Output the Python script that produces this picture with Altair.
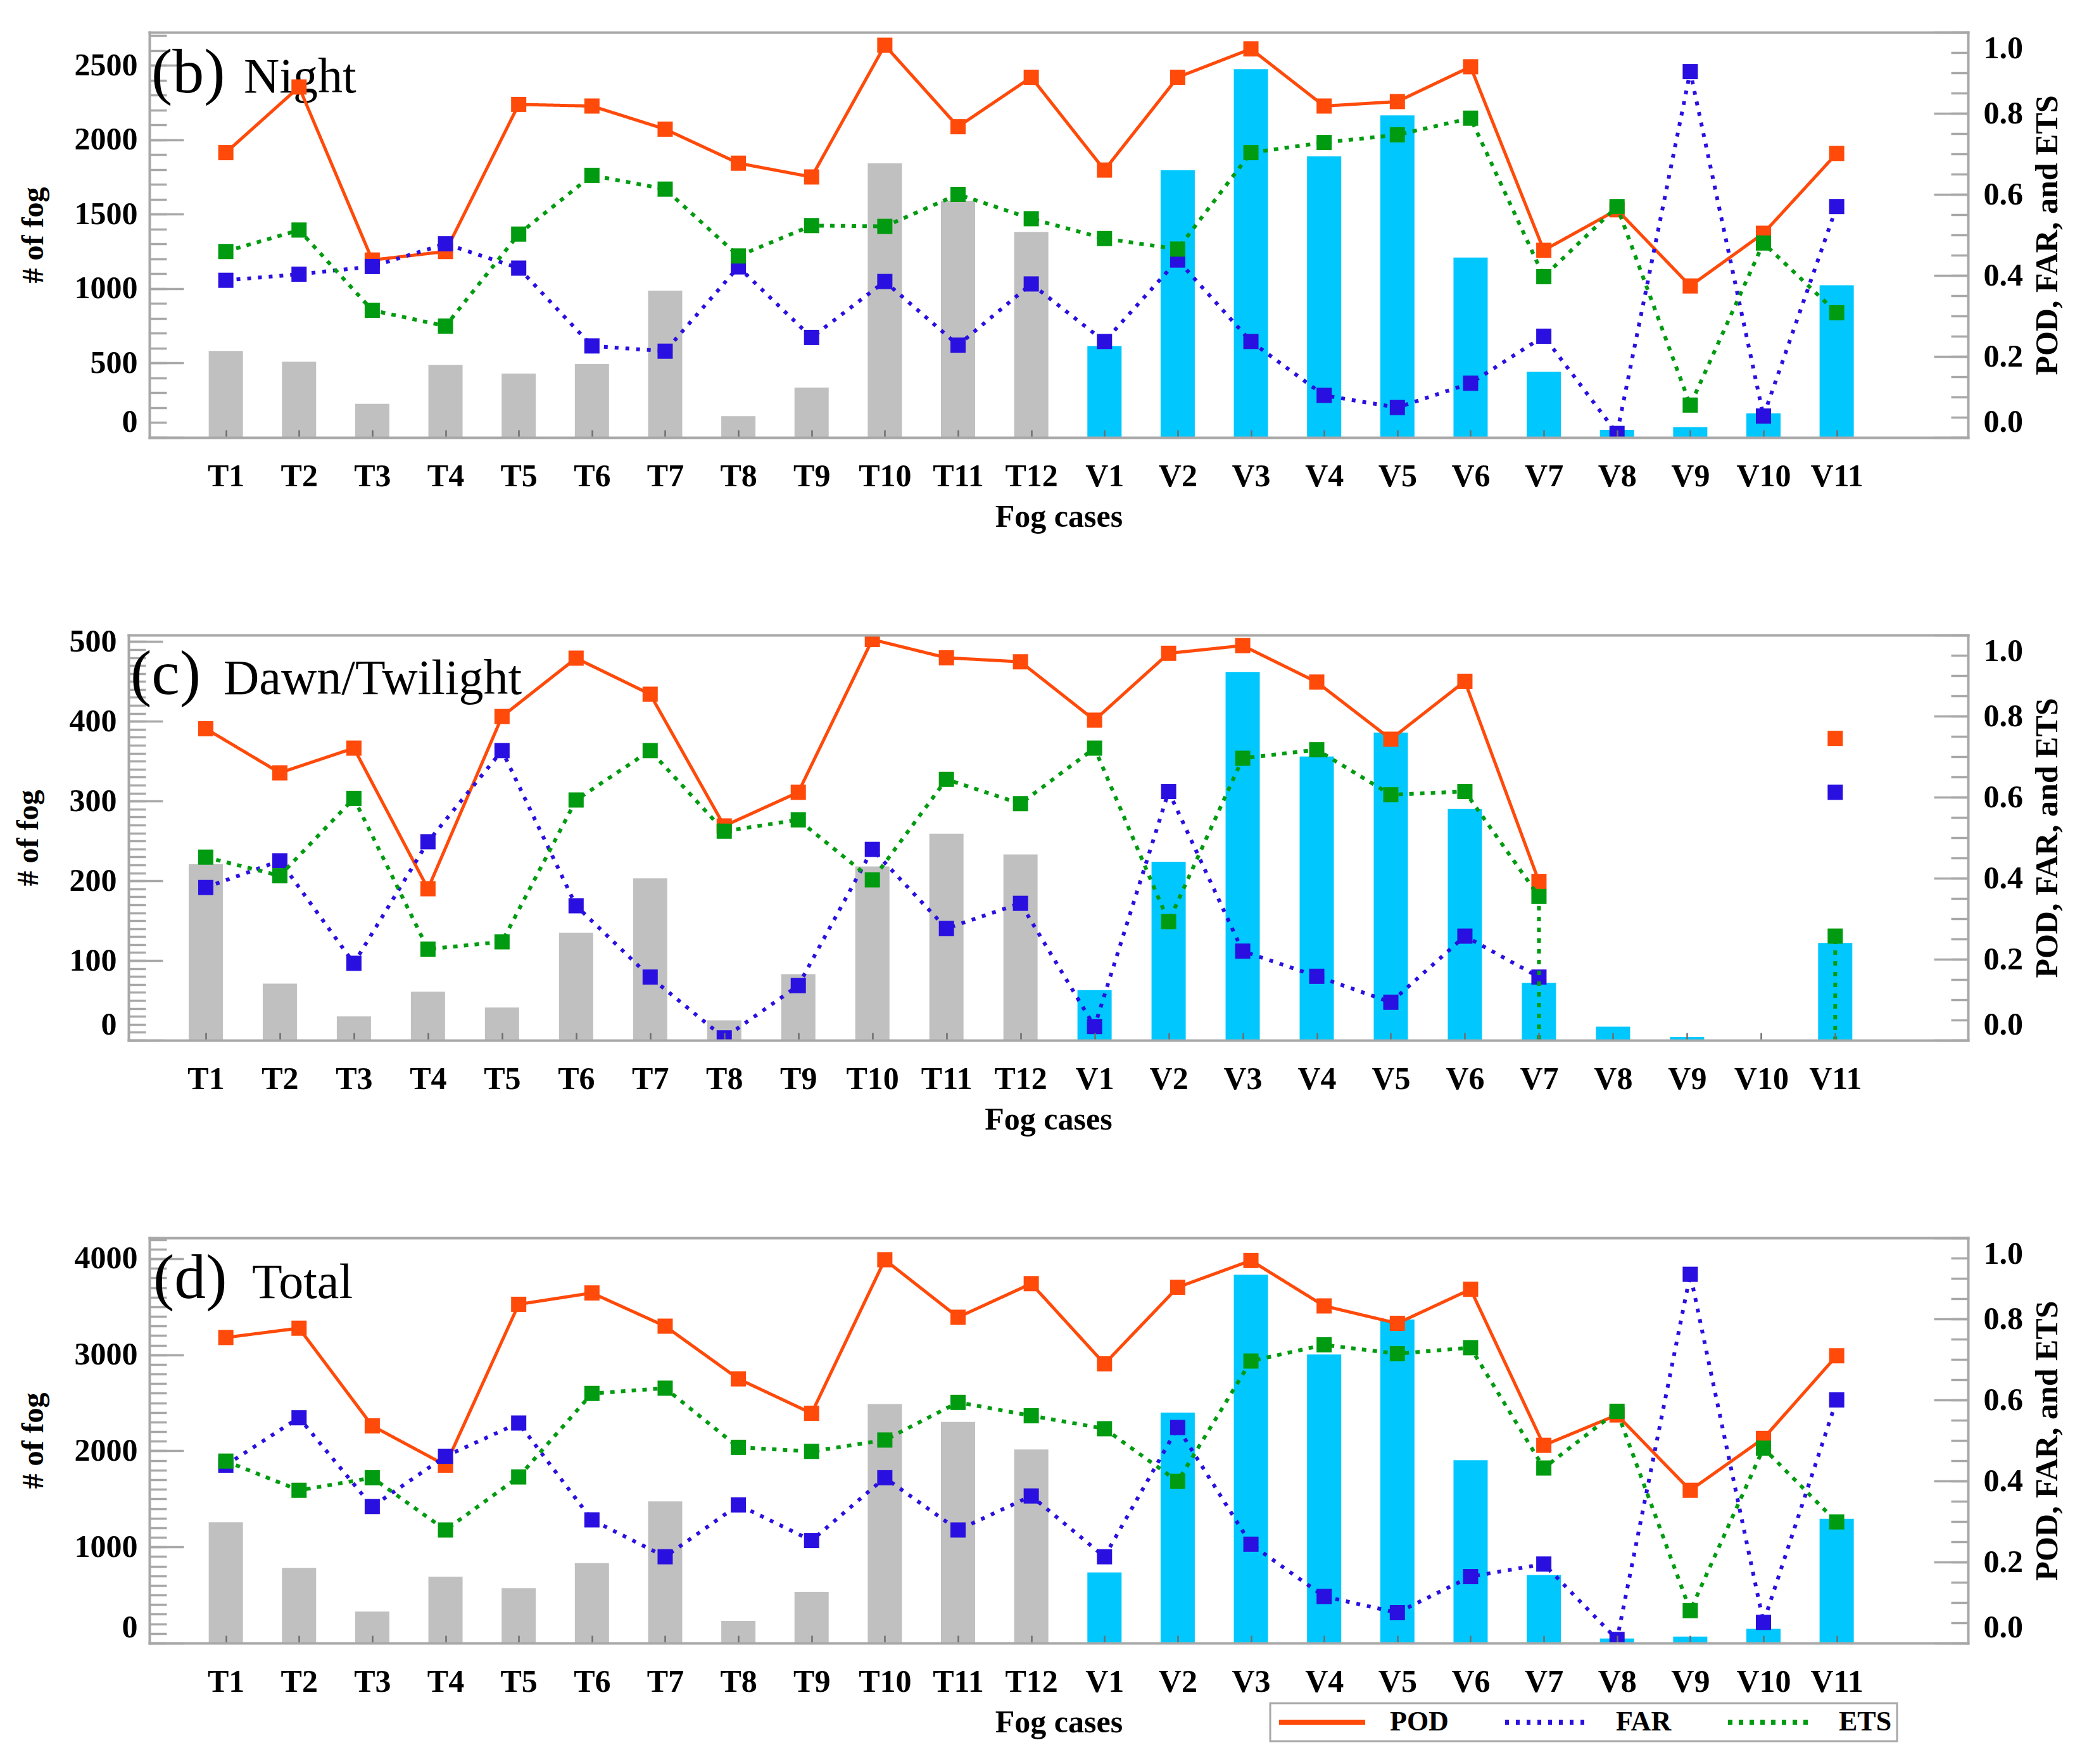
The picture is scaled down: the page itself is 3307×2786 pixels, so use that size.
import altair as alt
import pandas as pd

# ---------------- data ----------------
CASES = ["T1", "T2", "T3", "T4", "T5", "T6", "T7", "T8", "T9", "T10", "T11", "T12",
         "V1", "V2", "V3", "V4", "V5", "V6", "V7", "V8", "V9", "V10", "V11"]
METRICS = ["POD", "FAR", "ETS"]

# (b) Night
NIGHT_FOG = [581, 509, 226, 488, 430, 493, 986, 144, 335, 1841, 1590, 1381,
             614, 1795, 2474, 1888, 2163, 1209, 442, 51, 70, 163, 1023]
NIGHT_POD = [0.703, 0.865, 0.438, 0.459, 0.822, 0.818, 0.761, 0.677, 0.643, 0.968, 0.767, 0.889,
             0.660, 0.889, 0.959, 0.818, 0.829, 0.915, 0.462, 0.562, 0.374, 0.504, 0.701]
NIGHT_FAR = [0.388, 0.403, 0.422, 0.478, 0.418, 0.226, 0.213, 0.421, 0.247, 0.385, 0.228, 0.379,
             0.237, 0.438, 0.237, 0.104, 0.074, 0.134, 0.250, 0.010, 0.903, 0.053, 0.570]
NIGHT_ETS = [0.459, 0.512, 0.314, 0.275, 0.502, 0.647, 0.613, 0.448, 0.523, 0.521, 0.600, 0.540,
             0.491, 0.465, 0.703, 0.728, 0.747, 0.788, 0.397, 0.570, 0.080, 0.480, 0.308]

# (c) Dawn/Twilight  (None = not plotted; -999 = missing-value code of the source, drawn off-scale)
DAWN_FOG = [221, 71, 30, 61, 41, 135, 203, 25, 83, 218, 259, 233,
            63, 224, 462, 356, 386, 290, 72, 17, 4, 0, 122]
DAWN_POD = [0.769, 0.660, 0.721, 0.374, 0.799, 0.943, 0.854, 0.529, 0.612, 0.989, 0.944, 0.934,
            0.790, 0.955, 0.974, 0.884, 0.743, 0.886, 0.392, None, None, None, 0.745]
DAWN_FAR = [0.377, 0.443, 0.190, 0.490, 0.715, 0.332, 0.156, 0.006, 0.135, 0.471, 0.276, 0.338,
            0.034, 0.614, 0.220, 0.158, 0.094, 0.257, 0.156, None, None, None, 0.612]
DAWN_ETS = [0.452, 0.406, 0.597, 0.225, 0.243, 0.593, 0.715, 0.516, 0.544, 0.396, 0.644, 0.584,
            0.721, 0.293, 0.696, 0.717, 0.606, 0.614, 0.355, -999, -999, -999, 0.257]

# (d) Total
TOTAL_FOG = [1257, 783, 328, 690, 571, 832, 1474, 231, 533, 2488, 2302, 2015,
             735, 2398, 3834, 3003, 3368, 1902, 709, 48, 67, 149, 1294]
TOTAL_POD = [0.754, 0.777, 0.536, 0.439, 0.836, 0.864, 0.782, 0.652, 0.567, 0.946, 0.804, 0.887,
             0.689, 0.878, 0.944, 0.832, 0.789, 0.873, 0.488, 0.563, 0.377, 0.505, 0.709]
TOTAL_FAR = [0.439, 0.556, 0.337, 0.461, 0.543, 0.304, 0.213, 0.341, 0.253, 0.408, 0.279, 0.363,
             0.213, 0.532, 0.244, 0.115, 0.075, 0.164, 0.195, 0.009, 0.910, 0.051, 0.600]
TOTAL_ETS = [0.449, 0.377, 0.408, 0.279, 0.410, 0.616, 0.629, 0.483, 0.473, 0.501, 0.594, 0.561,
             0.529, 0.399, 0.696, 0.736, 0.714, 0.729, 0.432, 0.572, 0.080, 0.481, 0.299]

RIGHT_MAJOR = [0.0, 0.2, 0.4, 0.6, 0.8, 1.0]
RIGHT_MINOR = [0.0, 0.05, 0.1, 0.15, 0.2, 0.25, 0.3, 0.35, 0.4, 0.45, 0.5,
               0.55, 0.6, 0.65, 0.7, 0.75, 0.8, 0.85, 0.9, 0.95, 1.0]

# ---------------- styling ----------------
SERIF = "Liberation Serif"
FRAME = "#A8A8A8"
BAR_COLORS = ["#C0C0C0", "#00C8FF"]
METRIC_COLORS = ["#FF4A0A", "#2A10E0", "#009B10"]
METRIC_DASH = [[1, 0], [6, 11], [7, 10]]
METRIC_WIDTH = [5, 6, 6]

W, H = 2872, 640
XMAX = 24.75
LABEL_EXPR = "[" + ",".join("'%s'" % c for c in CASES) + "][datum.value-1]"

color_scale = alt.Scale(domain=METRICS, range=METRIC_COLORS)
dash_scale = alt.Scale(domain=METRICS, range=METRIC_DASH)
LEG = alt.Legend(
    title=None, orient="none", legendX=1770, legendY=2639, direction="horizontal",
    symbolType="M-4,0H4", symbolSize=1156, symbolStrokeWidth=8, symbolOffset=52,
    labelFont=SERIF, labelFontWeight="bold", labelFontSize=44, labelColor="black",
    labelOffset=85, columnPadding=73, padding=8, strokeColor=FRAME, fillColor="white",
)

TXT = dict(labelFont=SERIF, labelFontWeight="bold", labelColor="black",
           titleFont=SERIF, titleFontWeight="bold", titleColor="black", grid=False)
FRAME_AX = dict(domain=True, domainColor=FRAME, domainWidth=4, domainCap="square",
                ticks=False, labels=False, title=None, grid=False, zindex=1)


def panel(tag, name, fog, pod, far, ets, ext, major, minor, tag_x, name_x, base_y):
    idx = list(range(1, len(CASES) + 1))
    bars = pd.DataFrame({"idx": idx, "case": CASES, "grp": [c[0] for c in CASES], "fog": fog})
    long = pd.DataFrame([{"idx": i, "metric": m, "val": v}
                         for m, vals in zip(METRICS, (pod, far, ets))
                         for i, v in zip(idx, vals)])
    ymax = 1.1 * max(fog)
    xs = alt.Scale(domain=[0, XMAX], range=[-ext, W], nice=False, zero=False)
    ysl = alt.Scale(domain=[0, ymax], nice=False, zero=True)
    ysr = alt.Scale(domain=[0, 1], nice=False)

    x_main = alt.Axis(orient="bottom", values=idx, labelExpr=LABEL_EXPR, labelAngle=0,
                      labelFontSize=50, labelPadding=36, labelOverlap=False,
                      offset=-12, tickSize=12, tickWidth=2.5, tickColor="#6E6E6E",
                      domain=False, title="Fog cases", titleFontSize=50, titlePadding=14,
                      zindex=1, **TXT)
    x_top = alt.Axis(orient="top", **FRAME_AX)
    x_bot = alt.Axis(orient="bottom", **FRAME_AX)
    yl_main = alt.Axis(orient="left", values=list(range(0, int(ymax) + 1, major)),
                       offset=ext - 54, tickSize=54, tickWidth=3.5, tickColor=FRAME,
                       domain=False, labelFontSize=50, labelPadding=19, labelFlush=True,
                       format="d", title="# of fog", titleFontSize=48, titlePadding=40, **TXT)
    yl_minor = alt.Axis(orient="left", values=list(range(0, int(ymax) + 1, minor)),
                        offset=ext - 27, tickSize=27, tickWidth=3.5, tickColor=FRAME,
                        domain=False, labels=False, title=None, grid=False)
    yl_frame = alt.Axis(orient="left", offset=ext, **FRAME_AX)
    yr_main = alt.Axis(orient="right", values=RIGHT_MAJOR, offset=-54, tickSize=54,
                       tickWidth=3.5, tickColor=FRAME, domain=False, labelFontSize=50,
                       labelPadding=24, labelFlush=True, format=".1f",
                       title="POD, FAR, and ETS", titleFontSize=50, titleAngle=270,
                       titlePadding=64, **TXT)
    yr_minor = alt.Axis(orient="right", values=RIGHT_MINOR, offset=-27, tickSize=27,
                        tickWidth=3.5, tickColor=FRAME, domain=False, labels=False,
                        title=None, grid=False)
    yr_frame = alt.Axis(orient="right", offset=0, **FRAME_AX)

    base = alt.Chart(bars)
    layers = [
        base.mark_bar(size=54).encode(
            x=alt.X("idx:Q", scale=xs, axis=x_main),
            y=alt.Y("fog:Q", scale=ysl, axis=yl_main),
            fill=alt.Fill("grp:N", scale=alt.Scale(domain=["T", "V"], range=BAR_COLORS), legend=None),
        ),
        base.mark_bar(size=54, opacity=0).encode(
            x=alt.X("idx:Q", scale=xs, axis=x_top),
            y=alt.Y("fog:Q", scale=ysl, axis=yl_minor),
        ),
        base.mark_bar(size=54, opacity=0).encode(
            x=alt.X("idx:Q", scale=xs, axis=x_bot),
            y=alt.Y("fog:Q", scale=ysl, axis=yl_frame),
        ),
        alt.Chart(pd.DataFrame({"t": [tag]})).mark_text(
            font=SERIF, fontSize=100, align="left", baseline="alphabetic", color="black"
        ).encode(x=alt.value(tag_x), y=alt.value(base_y), text="t:N"),
        alt.Chart(pd.DataFrame({"t": [name]})).mark_text(
            font=SERIF, fontSize=78, align="left", baseline="alphabetic", color="black"
        ).encode(x=alt.value(name_x), y=alt.value(base_y), text="t:N"),
    ]
    right_axes = [yr_main, yr_minor, yr_frame]
    for k, m in enumerate(METRICS):
        src = alt.Chart(long).transform_filter(alt.datum.metric == m)
        layers.append(
            src.mark_line(clip=True, strokeWidth=METRIC_WIDTH[k],
                          invalid="break-paths-show-domains").encode(
                x=alt.X("idx:Q", scale=xs, axis=None),
                y=alt.Y("val:Q", scale=ysr, axis=right_axes[k]),
                color=alt.Color("metric:N", scale=color_scale, legend=LEG),
                strokeDash=alt.StrokeDash("metric:N", scale=dash_scale, legend=LEG),
            )
        )
        layers.append(
            src.mark_point(shape="square", filled=True, size=576, opacity=1, clip=True).encode(
                x=alt.X("idx:Q", scale=xs, axis=None),
                y=alt.Y("val:Q", scale=ysr, axis=None),
                color=alt.value(METRIC_COLORS[k]),
            )
        )
    return (alt.layer(*layers)
            .resolve_scale(y="independent")
            .resolve_axis(x="independent", y="independent")
            .properties(width=W, height=H))


pb = panel("(b)", "Night", NIGHT_FOG, NIGHT_POD, NIGHT_FAR, NIGHT_ETS,
           0, 500, 100, 3, 149, 95)
pc = panel("(c)", "Dawn/Twilight", DAWN_FOG, DAWN_POD, DAWN_FAR, DAWN_ETS,
           33, 100, 10, -30, 117, 93)
pd_ = panel("(d)", "Total", TOTAL_FOG, TOTAL_POD, TOTAL_FAR, TOTAL_ETS,
            0, 1000, 100, 6, 162, 95)

chart = (alt.vconcat(pb, pc, pd_, spacing=312, bounds="flush")
         .configure_view(stroke=None)
         .configure_legend(strokeWidth=3)
         .properties(padding={"left": 13, "top": 41, "right": 10, "bottom": 10},
                     background="white"))

chart.save("out.html", embed_options={"renderer": "svg", "actions": False})
